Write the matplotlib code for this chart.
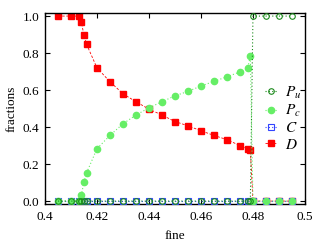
import matplotlib
matplotlib.use("Agg")
import matplotlib.pyplot as plt

plt.rcParams["font.family"] = "Liberation Serif"
plt.rcParams["mathtext.fontset"] = "stix"

# x values (fine)
fine = [0.405, 0.41, 0.413, 0.414, 0.415, 0.416, 0.42, 0.425, 0.43, 0.435,
        0.44, 0.445, 0.45, 0.455, 0.46, 0.465, 0.47, 0.475, 0.478, 0.479,
        0.48, 0.485, 0.49, 0.495]

P_u = [0, 0, 0, 0, 0, 0, 0, 0, 0, 0,
       0, 0, 0, 0, 0, 0, 0, 0, 0, 0,
       1, 1, 1, 1]
P_c = [0, 0, 0, 0.034, 0.103, 0.153, 0.283, 0.355, 0.418, 0.465,
       0.504, 0.537, 0.569, 0.593, 0.622, 0.647, 0.672, 0.698, 0.72, 0.785,
       0, 0, 0, 0]
C = [0] * len(fine)
D = [1, 1, 1, 0.966, 0.897, 0.847, 0.72, 0.645, 0.58, 0.537,
     0.497, 0.465, 0.43, 0.407, 0.38, 0.355, 0.332, 0.30, 0.283, 0.276,
     0, 0, 0, 0]

fig = plt.figure(figsize=(3.16, 2.44), dpi=100)
ax = fig.add_axes([0.1424, 0.163, 0.8226, 0.784])

ax.plot(fine, P_u, color="#1b8a1b", ls=(0, (1, 2)), lw=0.8, marker="o",
        ms=4, mfc="none", mec="#1b8a1b", mew=0.8, label="$P_u$", zorder=5)
ax.plot(fine, P_c, color="#66ee66", ls=(0, (1, 2)), lw=0.8, marker="o",
        ms=4.5, mfc="#66ee66", mec="#66ee66", label="$P_c$", zorder=4)
ax.plot(fine, C, color="#3344ff", ls=(0, (1, 2)), lw=0.8, marker="s",
        ms=4.5, mfc="none", mec="#3344ff", mew=0.8, label="$C$", zorder=3)
ax.plot(fine, D, color="#ff0000", ls=(0, (3, 2)), lw=0.6, marker="s",
        ms=4.5, mfc="#ff0000", mec="#ff0000", label="$D$", zorder=2)

ax.set_xlim(0.4, 0.5)
ax.set_ylim(-0.017, 1.017)
ax.set_xticks([0.4, 0.42, 0.44, 0.46, 0.48, 0.5])
ax.set_xticklabels(["0.4", "0.42", "0.44", "0.46", "0.48", "0.5"])
ax.set_yticks([0, 0.2, 0.4, 0.6, 0.8, 1.0])
ax.set_yticklabels(["0.0", "0.2", "0.4", "0.6", "0.8", "1.0"])
ax.tick_params(direction="in", top=True, right=True, length=3.5, width=0.8,
               labelsize=9.5)
ax.tick_params(axis="x", pad=5)
ax.tick_params(axis="y", pad=4)
for s in ax.spines.values():
    s.set_linewidth(1.0)

ax.set_xlabel("fine", fontsize=9.5, labelpad=5)
ax.set_ylabel("fractions", fontsize=9.5, labelpad=4)

ax.legend(loc="center right", bbox_to_anchor=(1.01, 0.45), frameon=False,
          fontsize=11, handlelength=0.8, handletextpad=0.5, labelspacing=0.15,
          borderaxespad=0)

fig.savefig("out.png", dpi=100)
